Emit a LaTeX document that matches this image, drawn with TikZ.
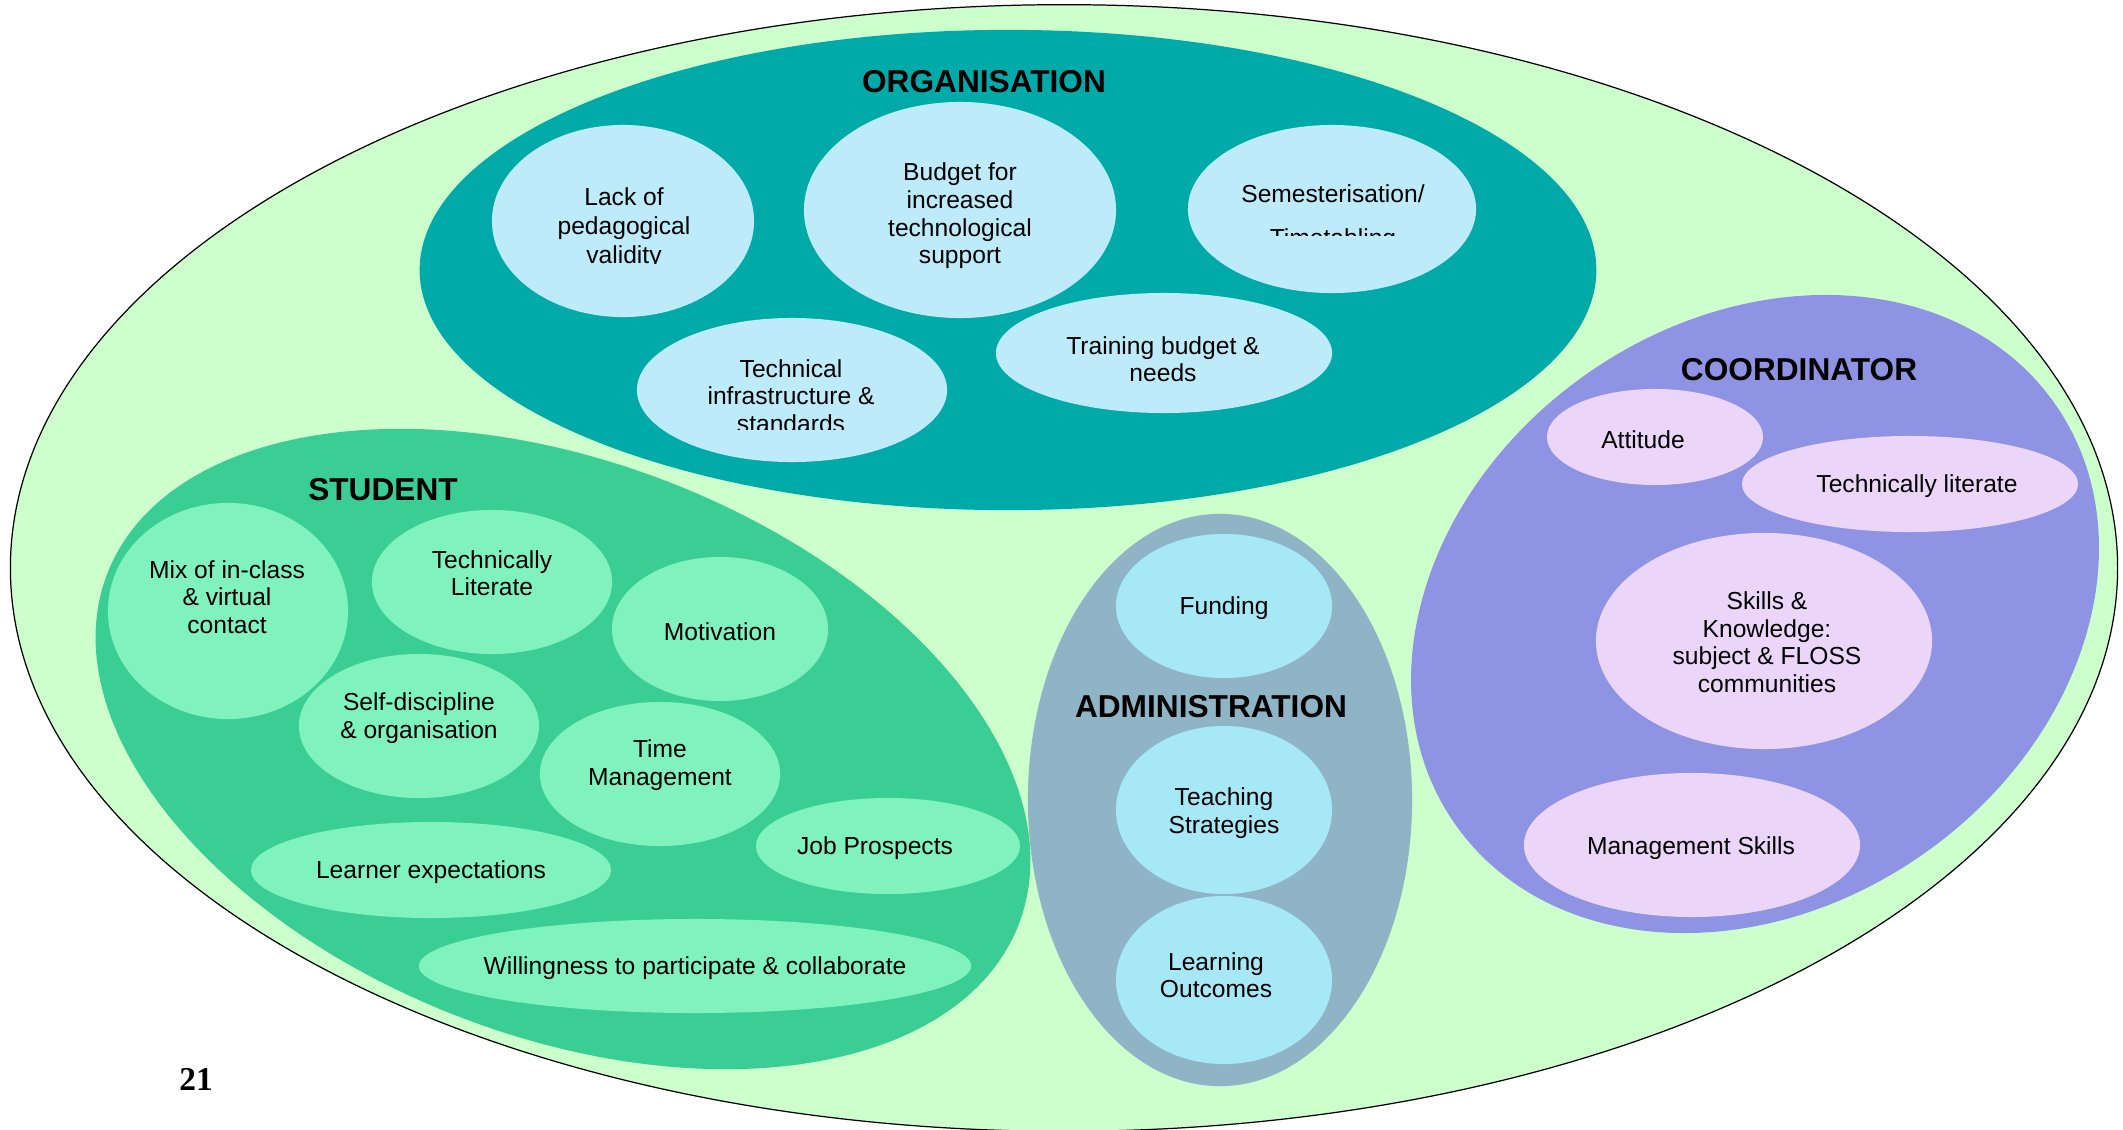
\documentclass[tikz,border=0pt]{standalone}
\usepackage{fontspec}
\setmainfont{Liberation Sans}
\newfontfamily\pagenumfont{Liberation Serif}
\usetikzlibrary{shapes.geometric}
\definecolor{outerc}{HTML}{CCFFCC}
\definecolor{orgc}{HTML}{00AAA8}
\definecolor{orgchild}{HTML}{BDEBF9}
\definecolor{studc}{HTML}{3BCE94}
\definecolor{studchild}{HTML}{80F2BE}
\definecolor{admc}{HTML}{8FB4C5}
\definecolor{admchild}{HTML}{A6E8F6}
\definecolor{coordc}{HTML}{8E94E3}
\definecolor{coordchild}{HTML}{EBD5F9}
\tikzset{
  bub/.style={ellipse, inner sep=0pt, draw=none},
  txt/.style={inner sep=0pt, align=center, yshift=-0.02cm, font=\fontsize{7}{7.85}\selectfont},
  ttl/.style={inner sep=0pt, font=\bfseries\fontsize{9}{10}\selectfont},
}
\begin{document}
\begin{tikzpicture}[x=0.01cm, y=-0.01cm]
\useasboundingbox (0,0) rectangle (2123,1130);
% outer
\node[bub, fill=outerc, draw=black, line width=0.35pt, minimum width=21.06cm, minimum height=11.26cm] (outer) at (1064,568) {};
% groups
\node[bub, fill=orgc, minimum width=11.76cm, minimum height=4.80cm] (org) at (1008,270) {};
\node[bub, fill=studc, minimum width=9.76cm, minimum height=5.74cm, rotate=-21] (stud) at (563,749) {};
\node[bub, fill=admc, minimum width=3.84cm, minimum height=5.72cm] (adm) at (1220,800) {};
\node[bub, fill=coordc, minimum width=7.32cm, minimum height=5.86cm, rotate=35] (coord) at (1755,614) {};
% titles
\node[ttl] (orgt) at (984,82) {ORGANISATION};
\node[ttl] (studt) at (383,490) {STUDENT};
\node[ttl] (admt) at (1211,707) {ADMINISTRATION};
\node[ttl] (coordt) at (1799,370) {COORDINATOR};
% organisation bubbles
\node[bub, fill=orgchild, minimum width=2.62cm, minimum height=1.92cm] (lack) at (623,221) {};
\node[bub, fill=orgchild, minimum width=3.12cm, minimum height=2.16cm] (budget) at (960,210) {};
\node[bub, fill=orgchild, minimum width=2.88cm, minimum height=1.68cm] (semest) at (1332,209) {};
\node[bub, fill=orgchild, minimum width=3.10cm, minimum height=1.44cm] (techinf) at (792,390) {};
\node[bub, fill=orgchild, minimum width=3.36cm, minimum height=1.20cm] (training) at (1164,353) {};
\begin{scope}
  \clip (480,120) rectangle (770,263);
  \node[txt, font=\fontsize{7}{8.2}\selectfont] (lackt) at (624,226) {Lack of\\pedagogical\\validity};
\end{scope}
\node[txt] (budgett) at (960,214) {Budget for\\increased\\technological\\support};
\begin{scope}
  \clip (1180,120) rectangle (1490,235);
  \node[txt, font=\fontsize{7}{12.4}\selectfont] (semestt) at (1333,216) {Semesterisation/\\Timetabling};
\end{scope}
\begin{scope}
  \clip (630,320) rectangle (950,429);
  \node[txt] (techinft) at (791,394) {Technical\\infrastructure \&\\standards};
\end{scope}
\node[txt] (trainingt) at (1163,357) {Training budget \&\\needs};
% student bubbles
\node[bub, fill=studchild, minimum width=2.40cm, minimum height=2.16cm] (mix) at (228,611) {};
\node[bub, fill=studchild, minimum width=2.40cm, minimum height=1.44cm] (techlit) at (492,582) {};
\node[bub, fill=studchild, minimum width=2.16cm, minimum height=1.44cm] (motiv) at (720,629) {};
\node[bub, fill=studchild, minimum width=2.40cm, minimum height=1.44cm] (selfd) at (419,726) {};
\node[bub, fill=studchild, minimum width=2.40cm, minimum height=1.44cm] (timem) at (660,774) {};
\node[bub, fill=studchild, minimum width=3.60cm, minimum height=0.96cm] (learner) at (431,870) {};
\node[bub, fill=studchild, minimum width=2.64cm, minimum height=0.96cm] (jobp) at (888,846) {};
\node[bub, fill=studchild, minimum width=5.52cm, minimum height=0.94cm] (will) at (695,966) {};
\node[txt] (mixt) at (227,595) {Mix of in-class\\\& virtual\\contact};
\node[txt] (techlitt) at (492,571) {Technically\\Literate};
\node[txt] (motivt) at (720,630) {Motivation};
\node[txt] (selfdt) at (419,716) {Self-discipline\\\& organisation};
\node[txt] (timemt) at (660,763) {Time\\Management};
\node[txt] (learnert) at (431,870) {Learner expectations};
\node[txt] (jobpt) at (875,846) {Job Prospects};
\node[txt] (willt) at (695,966) {Willingness to participate \& collaborate};
% administration bubbles
\node[bub, fill=admchild, minimum width=2.16cm, minimum height=1.44cm] (funding) at (1224,606) {};
\node[bub, fill=admchild, minimum width=2.16cm, minimum height=1.68cm] (teach) at (1224,810) {};
\node[bub, fill=admchild, minimum width=2.16cm, minimum height=1.68cm] (lout) at (1224,980) {};
\node[txt] (fundingt) at (1224,606) {Funding};
\node[txt] (teacht) at (1224,811) {Teaching\\Strategies};
\node[txt] (loutt) at (1216,973) {Learning\\Outcomes};
% coordinator bubbles
\node[bub, fill=coordchild, minimum width=2.16cm, minimum height=0.96cm] (attit) at (1655,437) {};
\node[bub, fill=coordchild, minimum width=3.36cm, minimum height=0.96cm] (techlit2) at (1910,484) {};
\node[bub, fill=coordchild, minimum width=3.36cm, minimum height=2.16cm] (skills) at (1764,641) {};
\node[bub, fill=coordchild, minimum width=3.36cm, minimum height=1.44cm] (mgmt) at (1692,845) {};
\node[txt] (attitt) at (1643,438) {Attitude};
\node[txt] (techlit2t) at (1917,484) {Technically literate};
\node[txt] (skillst) at (1767,640) {Skills \&\\Knowledge:\\subject \& FLOSS\\communities};
\node[txt] (mgmtt) at (1691,846) {Management Skills};
% page number
\node[inner sep=0pt, font=\pagenumfont\bfseries\fontsize{9.5}{10}\selectfont] (pagenum) at (196,1079) {21};
\end{tikzpicture}
\end{document}
